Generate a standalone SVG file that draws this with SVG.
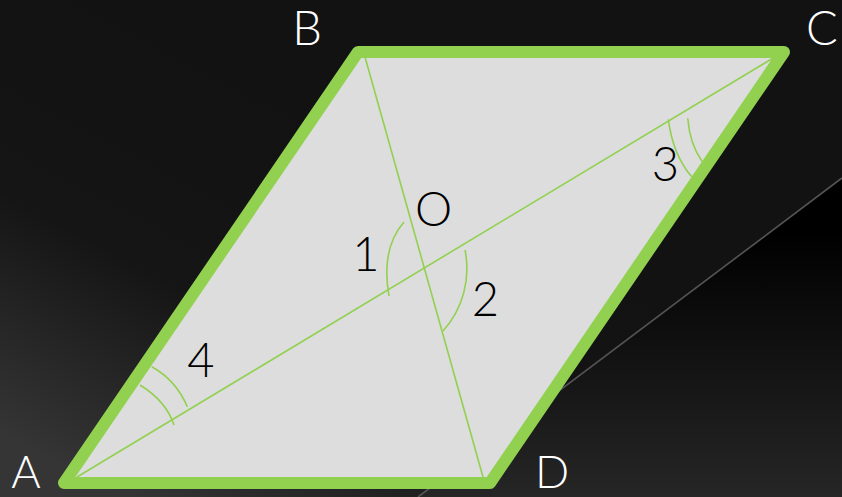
<svg xmlns="http://www.w3.org/2000/svg" width="842" height="497" viewBox="0 0 842 497">
<defs>
<linearGradient id="bg" gradientUnits="userSpaceOnUse" x1="320" y1="120" x2="120" y2="497">
<stop offset="0" stop-color="#121212"/>
<stop offset="0.5" stop-color="#151515"/>
<stop offset="1" stop-color="#353535"/>
</linearGradient>
<linearGradient id="dark" gradientUnits="userSpaceOnUse" x1="0" y1="230" x2="0" y2="497">
<stop offset="0" stop-color="#000000"/>
<stop offset="1" stop-color="#262626"/>
</linearGradient>
<style>
.edge{fill:none;stroke:#92D050;stroke-width:12;stroke-linejoin:round}
.thin{fill:none;stroke:#92D050;stroke-width:1.6}
.lbl{font-family:"Lato","Liberation Sans",sans-serif;font-weight:300;font-size:47px;text-anchor:middle}
.low{font-size:45px}
.w{fill:#FFFFFF}
.k{fill:#000000}
</style>
</defs>
<g id="background">
<rect x="0" y="0" width="842" height="497" fill="url(#bg)"/>
<polygon points="842,178 842,497 418,497" fill="url(#dark)"/>
<line x1="842" y1="178" x2="418" y2="497" stroke="#555555" stroke-width="1.6"/>
</g>
<g id="parallelogram-fill">
<polygon points="64,483 358,52 784,52 490,483" fill="#DDDDDD"/>
</g>
<g id="connectors">
<line class="thin" x1="77" y1="477" x2="774" y2="57.5"/>
<line class="thin" x1="365" y1="57" x2="483" y2="477"/>
<path class="thin" d="M404,222 C390,238 383,262 389,296"/>
<path class="thin" d="M465,250 A93,93 0 0 1 443,331"/>
<path class="thin" d="M668.3,119.3 Q673,155 691.7,176.7"/>
<path class="thin" d="M687.7,118.3 Q690,145 702.3,161.7"/>
<path class="thin" d="M151.7,366.7 Q176,380 187.3,406.7"/>
<path class="thin" d="M140,385 Q166,401 174,425"/>
</g>
<g id="parallelogram-edges">
<polygon class="edge" points="64,483 358,52 784,52 490,483"/>
</g>
<g id="vertex-A"><text class="lbl low w" x="26" y="488">A</text></g>
<g id="vertex-B"><text class="lbl w" x="307" y="45">B</text></g>
<g id="vertex-C"><text class="lbl w" x="822" y="45">C</text></g>
<g id="vertex-D"><text class="lbl low w" x="552" y="488">D</text></g>
<g id="point-O"><text class="lbl k" x="433.5" y="226">O</text></g>
<g id="angle-1"><text class="lbl k" x="366" y="271">1</text></g>
<g id="angle-2"><text class="lbl k" x="485.5" y="316">2</text></g>
<g id="angle-3"><text class="lbl k" x="665.5" y="181">3</text></g>
<g id="angle-4"><text class="lbl k" x="201" y="377">4</text></g>
</svg>
